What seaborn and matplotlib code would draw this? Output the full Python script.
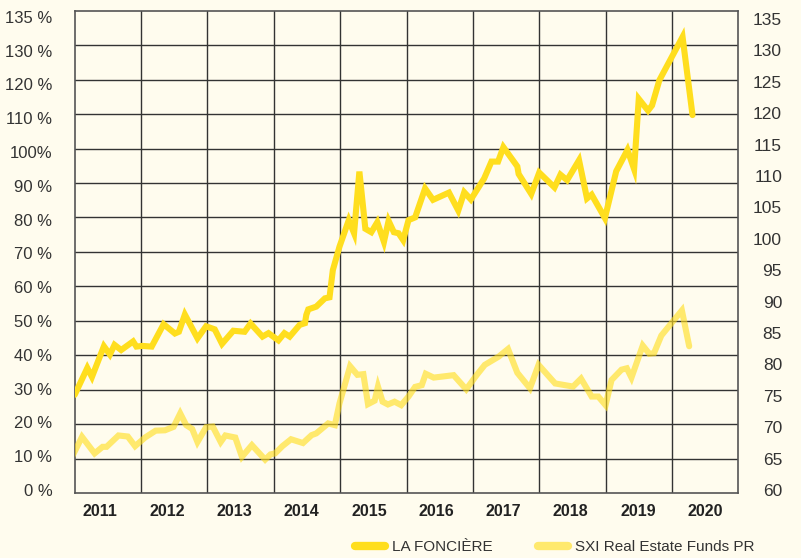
import numpy as np
import pandas as pd
import matplotlib
matplotlib.use("Agg")
import matplotlib.pyplot as plt
import seaborn as sns
from matplotlib.lines import Line2D

# ---------------- data ----------------
lf_dates = [2011.00, 2011.19, 2011.26, 2011.44, 2011.53, 2011.60, 2011.70, 2011.88, 2011.93,
            2012.02, 2012.16, 2012.34, 2012.51, 2012.57, 2012.66, 2012.85, 2012.98,
            2013.11, 2013.22, 2013.39, 2013.56, 2013.65, 2013.83, 2013.92,
            2014.07, 2014.16, 2014.24, 2014.39, 2014.47, 2014.49, 2014.52, 2014.64, 2014.77,
            2014.84, 2014.89, 2014.99,
            2015.13, 2015.21, 2015.29, 2015.38, 2015.47, 2015.56, 2015.66, 2015.73, 2015.81,
            2015.88, 2015.95,
            2016.03, 2016.13, 2016.28, 2016.40, 2016.64, 2016.78, 2016.87, 2016.97,
            2017.17, 2017.28, 2017.38, 2017.46, 2017.67, 2017.69, 2017.88,
            2018.00, 2018.23, 2018.32, 2018.42, 2018.60, 2018.72, 2018.79, 2018.99,
            2019.16, 2019.33, 2019.43, 2019.50, 2019.64, 2019.70, 2019.81,
            2020.16, 2020.31]
lf_values = [28.5, 36.3, 33.7, 42.6, 40.2, 43.0, 41.5, 44.0, 42.5,
             42.7, 42.5, 49.0, 46.3, 46.8, 51.8, 44.9, 48.4,
             47.5, 43.3, 47.1, 46.8, 49.2, 45.4, 46.4,
             44.3, 46.4, 45.4, 48.8, 49.3, 51.7, 53.3, 54.1, 56.5,
             56.8, 64.7, 71.5,
             79.2, 75.4, 93.3, 76.7, 75.7, 78.6, 72.9, 79.0, 75.7,
             75.4, 73.4,
             79.2, 80.0, 88.4, 85.1, 87.2, 82.0, 87.3, 85.2,
             91.3, 96.2, 96.2, 100.4, 94.8, 92.6, 86.8,
             93.0, 88.7, 92.4, 90.8, 96.6, 85.5, 86.6, 79.8,
             93.4, 99.6, 94.0, 114.4, 111.0, 112.5, 119.8,
             132.4, 109.7]

sxi_dates = [2010.96, 2011.11, 2011.30, 2011.42, 2011.48, 2011.66, 2011.80, 2011.91,
             2012.06, 2012.22, 2012.36, 2012.49, 2012.59, 2012.68, 2012.77, 2012.85, 2012.98,
             2013.08, 2013.20, 2013.27, 2013.42, 2013.52, 2013.67, 2013.87, 2013.95,
             2014.02, 2014.13, 2014.26, 2014.44, 2014.57, 2014.64, 2014.82, 2014.92, 2014.99,
             2015.15, 2015.26, 2015.35, 2015.42, 2015.52, 2015.57, 2015.64, 2015.72, 2015.82,
             2015.92,
             2016.03, 2016.13, 2016.23, 2016.29, 2016.41, 2016.71, 2016.90,
             2017.06, 2017.18, 2017.39, 2017.53, 2017.67, 2017.86, 2017.99,
             2018.24, 2018.51, 2018.63, 2018.79, 2018.89, 2019.00,
             2019.09, 2019.24, 2019.32, 2019.39, 2019.56, 2019.66, 2019.73, 2019.84,
             2020.15, 2020.26]
sxi_values = [10.5, 16.3, 11.5, 13.4, 13.4, 16.7, 16.4, 13.6,
              16.1, 18.1, 18.2, 19.2, 23.1, 19.7, 18.6, 14.8, 19.1,
              19.3, 14.8, 16.7, 16.1, 10.5, 13.9, 9.7, 11.2,
              11.5, 13.6, 15.6, 14.5, 16.8, 17.3, 20.2, 19.7, 26.0,
              36.8, 34.3, 34.5, 25.8, 26.8, 30.9, 26.5, 25.7, 26.5,
              25.5,
              28.0, 30.8, 31.3, 34.6, 33.5, 34.2, 30.1,
              34.3, 37.2, 39.6, 41.8, 34.9, 30.4, 37.2,
              31.8, 30.9, 33.2, 28.0, 28.0, 25.5,
              32.8, 35.8, 36.2, 33.5, 42.8, 40.4, 40.6, 45.7,
              53.0, 42.6]

series_names = ["LA FONCIÈRE", "SXI Real Estate Funds PR"]
year_labels = ["2011", "2012", "2013", "2014", "2015", "2016", "2017", "2018", "2019", "2020"]
left_labels = ["0 %", "10 %", "20 %", "30 %", "40 %", "50 %", "60 %", "70 %", "80 %",
               "90 %", "100%", "110 %", "120 %", "130 %", "135 %"]
right_labels = ["60", "65", "70", "75", "80", "85", "90", "95", "100", "105",
                "110", "115", "120", "125", "130", "135"]

# ---------------- styling ----------------
BG = "#FFFCEE"
C_LF = "#FFDE1E"
C_SXI = "#FFDE1E"
GRID = "#333333"

sns.set_theme(style="white")
plt.rcParams["font.family"] = ["Liberation Sans", "DejaVu Sans"]

fig = plt.figure(figsize=(8.01, 5.58), dpi=100, facecolor=BG)
W, H = 801, 558
ax = fig.add_axes([74.7 / W, (H - 493) / H, (738.3 - 74.7) / W, (493 - 10.7) / H])
ax.set_facecolor(BG)

df = pd.concat([
    pd.DataFrame({"date": lf_dates, "value": lf_values, "series": series_names[0]}),
    pd.DataFrame({"date": sxi_dates, "value": sxi_values, "series": series_names[1]}),
])

sns.lineplot(data=df[df.series == series_names[1]], x="date", y="value", ax=ax,
             color=C_SXI, alpha=0.62, linewidth=4.4, estimator=None, sort=False,
             solid_capstyle="round", solid_joinstyle="miter", zorder=3, legend=False)
sns.lineplot(data=df[df.series == series_names[0]], x="date", y="value", ax=ax,
             color=C_LF, linewidth=4.4, estimator=None, sort=False,
             solid_capstyle="round", solid_joinstyle="miter", zorder=4, legend=False)

ax.set_xlim(2011, 2021)
ax.set_ylim(0, 140)
ax.set_xlabel("")
ax.set_ylabel("")

# grid lines (minor ticks), labels (major ticks)
ax.set_xticks(np.arange(2012, 2021), minor=True)
ax.set_yticks(np.arange(10, 140, 10), minor=True)
ax.grid(False)
ax.grid(which="minor", color=GRID, linewidth=1.0, zorder=1)
ax.set_axisbelow(True)

ax.set_xticks(np.linspace(2011.38, 2020.5, len(year_labels)))
ax.set_xticklabels(year_labels, fontsize=11.5, fontweight="bold", color="#222222")
ax.set_yticks(np.linspace(0.9, 138.2, len(left_labels)))
ax.set_yticklabels(left_labels, fontsize=12, color="#333333")
ax.tick_params(axis="both", which="both", length=0)
ax.tick_params(axis="x", pad=8)
ax.tick_params(axis="y", pad=16)

for s in ax.spines.values():
    s.set_visible(True)
    s.set_color("#555555")
    s.set_linewidth(1.2)

# right axis
ax2 = ax.twinx()
ax2.set_ylim(59.52, 136.32)
ax2.set_yticks(np.arange(60, 136, 5))
ax2.set_yticklabels(right_labels, fontsize=12.5, color="#333333", ha="right")
ax2.tick_params(axis="y", length=0, pad=31.5)
ax2.grid(False)
for s in ax2.spines.values():
    s.set_visible(False)

# legend
handles = [Line2D([0], [0], color=C_LF, linewidth=6),
           Line2D([0], [0], color=C_SXI, alpha=0.62, linewidth=6)]
leg = fig.legend(handles, series_names, loc="center left", bbox_to_anchor=(355 / W, 1 - 547 / H),
                 ncol=2, frameon=False, fontsize=11, handlelength=1.95, handletextpad=0.45,
                 columnspacing=3.0, borderaxespad=0, borderpad=0)
for t in leg.get_texts():
    t.set_color("#333333")

fig.savefig("out.png", dpi=100, facecolor=BG)
